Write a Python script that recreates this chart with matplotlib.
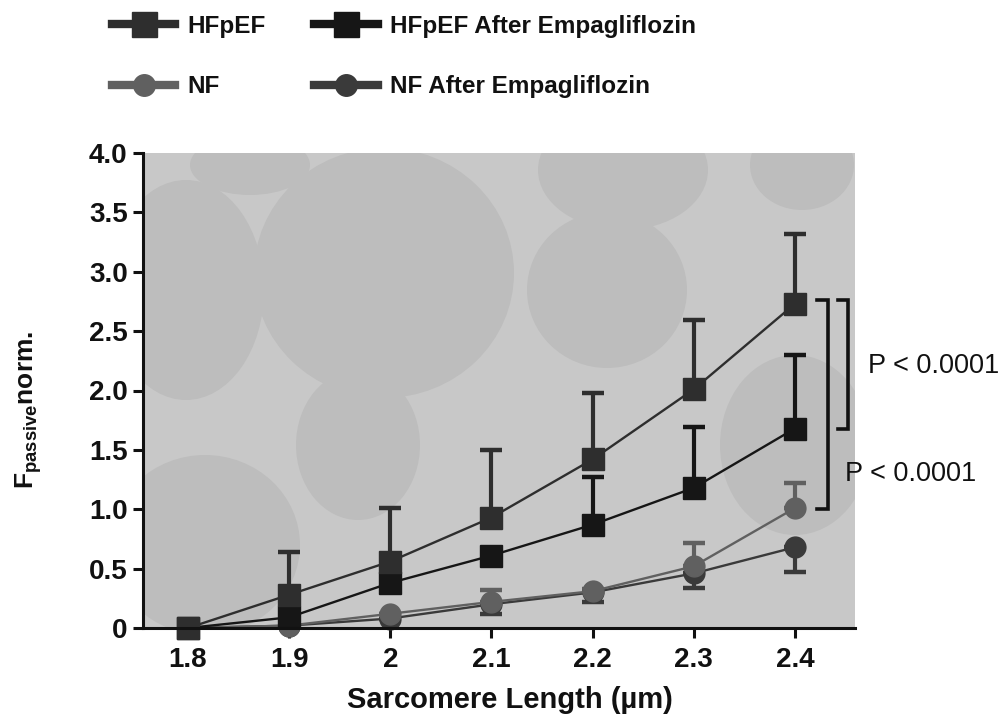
import matplotlib
matplotlib.use("Agg")
import matplotlib.pyplot as plt
from matplotlib.lines import Line2D
from matplotlib.patches import Ellipse

plt.rcParams['font.family'] = ['Liberation Sans', 'DejaVu Sans']
plt.rcParams['mathtext.fontset'] = 'custom'
plt.rcParams['mathtext.rm'] = 'Liberation Sans'
plt.rcParams['mathtext.bf'] = 'Liberation Sans:bold'

# ---- data ----
sarcomere_length = [1.8, 1.9, 2.0, 2.1, 2.2, 2.3, 2.4]
x_tick_labels = ["1.8", "1.9", "2", "2.1", "2.2", "2.3", "2.4"]
y_ticks = [0, 0.5, 1.0, 1.5, 2.0, 2.5, 3.0, 3.5, 4.0]
y_tick_labels = ["0", "0.5", "1.0", "1.5", "2.0", "2.5", "3.0", "3.5", "4.0"]

hfpef = [0.0, 0.28, 0.56, 0.93, 1.42, 2.01, 2.73]
hfpef_err_up = [0.0, 0.36, 0.45, 0.57, 0.56, 0.58, 0.59]

hfpef_empa = [0.0, 0.09, 0.38, 0.61, 0.87, 1.18, 1.68]
hfpef_empa_err_up = [0.0, 0.0, 0.0, 0.0, 0.40, 0.51, 0.62]

nf = [0.0, 0.02, 0.12, 0.22, 0.31, 0.52, 1.01]
nf_err_up = [0.0, 0.0, 0.0, 0.10, 0.02, 0.20, 0.21]

nf_empa = [0.0, 0.02, 0.08, 0.20, 0.30, 0.46, 0.68]
nf_empa_err_dn = [0.0, 0.0, 0.0, 0.08, 0.08, 0.12, 0.21]

labels = ["HFpEF", "HFpEF After Empagliflozin", "NF", "NF After Empagliflozin"]
p_text = "P < 0.0001"

# ---- style ----
c_hf = "#2e2e2e"
c_hfe = "#161616"
c_nf = "#606060"
c_nfe = "#3a3a3a"
bg = "#c8c8c8"
blob = "#bdbdbd"
ink = "#111111"

fig = plt.figure(figsize=(10.03, 7.2), dpi=100)
ax = fig.add_axes([143/1003, 92/720, 712/1003, 475/720])
ax.set_facecolor(bg)

# decorative background blobs (pixel centre, pixel radii)
blobs = [(384, 273, 130, 125), (607, 290, 80, 78), (802, 165, 52, 45),
         (623, 170, 85, 60), (186, 290, 78, 110), (205, 545, 95, 90),
         (358, 445, 62, 75), (795, 445, 75, 90), (250, 165, 60, 30)]
for cx, cy, rx, ry in blobs:
    ax.add_patch(Ellipse(((cx - 143) / 712, (628 - cy) / 475), 2 * rx / 712, 2 * ry / 475,
                         transform=ax.transAxes, facecolor=blob, edgecolor='none', zorder=0))

lw = 1.7
series = [
    (nf, [[0]*7, nf_err_up], c_nf, 'o', 15, 3.0),
    (nf_empa, [nf_empa_err_dn, [0]*7], c_nfe, 'o', 15, 2.9),
    (hfpef_empa, [[0]*7, hfpef_empa_err_up], c_hfe, 's', 16, 4.0),
    (hfpef, [[0]*7, hfpef_err_up], c_hf, 's', 16, 5.0),
]
for vals, err, col, mk, ms, z in series:
    cont = ax.errorbar(sarcomere_length, vals, yerr=err, color=col, ecolor=col,
                       elinewidth=3.0, capsize=8, capthick=3.2, lw=lw, marker=mk, ms=ms, zorder=z)
    for a in cont.get_children():
        a.set_clip_on(False)

ax.set_xlim(1.7555, 2.4594)
ax.set_ylim(0, 4.0)
ax.set_xticks(sarcomere_length)
ax.set_xticklabels(x_tick_labels)
ax.set_yticks(y_ticks)
ax.set_yticklabels(y_tick_labels)
for s in ['top', 'right']:
    ax.spines[s].set_visible(False)
for s in ['left', 'bottom']:
    ax.spines[s].set_linewidth(2.2)
    ax.spines[s].set_color(ink)
    ax.spines[s].set_zorder(6)
ax.tick_params(axis='both', width=2.2, length=7, color=ink, labelsize=20)
ax.tick_params(axis='x', pad=7)
ax.tick_params(axis='y', pad=4)
for t in ax.get_xticklabels() + ax.get_yticklabels():
    t.set_fontweight('bold')
    t.set_color(ink)

ax.set_xlabel("Sarcomere Length (µm)", fontsize=21, fontweight='bold', color=ink)
ax.xaxis.set_label_coords((510 - 143) / 712, (628 - 686) / 475)
ax.set_ylabel(r"$\mathbf{F}_{\mathbf{passive}}\mathbf{norm.}$", fontsize=19, color=ink)
ax.yaxis.set_label_coords((44 - 143) / 712, (628 - 410) / 475)

# significance brackets
def bracket(x0, x1, y0, y1):
    ax.plot([x0, x1, x1, x0], [y1, y1, y0, y0], color=ink, lw=2.6, clip_on=False,
            solid_joinstyle='miter', zorder=6)

bracket(2.4218, 2.4327, 1.0, 2.76)
bracket(2.4426, 2.4525, 1.68, 2.76)
ax.text(2.4725, 2.21, p_text, fontsize=19.5, va='center', ha='left', color=ink, clip_on=False)
ax.text(2.4495, 1.30, p_text, fontsize=19.5, va='center', ha='left', color=ink, clip_on=False)

# legend
handles = [
    Line2D([], [], color=c_hf, lw=6, marker='s', ms=18),
    Line2D([], [], color=c_nf, lw=6, marker='o', ms=15.5),
    Line2D([], [], color=c_hfe, lw=6, marker='s', ms=18),
    Line2D([], [], color=c_nfe, lw=6, marker='o', ms=15.5),
]
leg_labels = [labels[0], labels[2], labels[1], labels[3]]
leg = fig.legend(handles, leg_labels, ncol=2, loc='upper left', bbox_to_anchor=(112/1003, 1 - 15/720),
                 frameon=False, prop={'weight': 'bold', 'size': 17.5}, handlelength=2.6,
                 handletextpad=0.5, columnspacing=2.0, labelspacing=1.53,
                 borderpad=0, borderaxespad=0)
for t in leg.get_texts():
    t.set_color(ink)

fig.savefig("out.png", dpi=100, facecolor='white')
